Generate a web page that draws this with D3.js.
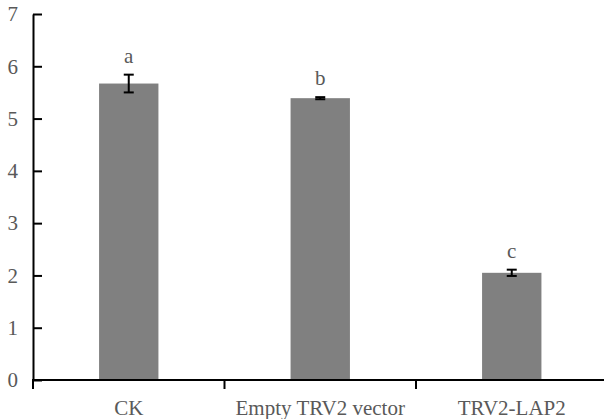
<!DOCTYPE html>
<html>
<head>
<meta charset="utf-8">
<script src="https://cdn.jsdelivr.net/npm/d3@7"></script>
<style>
  body { margin: 0; background: #fff; }
  svg { display: block; }
  text { font-family: "Liberation Serif", "Times New Roman", serif; fill: #595959; }
</style>
</head>
<body>
<svg width="604" height="419"></svg>
<script>
// data
const categories = ["CK", "Empty TRV2 vector", "TRV2-LAP2"]
const values = [5.67, 5.39, 2.05]
const errors = [0.17, 0.02, 0.06]
const letters = ["a", "b", "c"]
const yTicks = [0, 1, 2, 3, 4, 5, 6, 7]

const svg = d3.select("svg")

const x = d3.scaleBand()
  .domain(categories)
  .range([33, 607.5]) //axis runs off the right edge

const y = d3.scaleLinear()
  .domain([0, 7])
  .range([380, 14])

const barW = x.bandwidth() * 0.31

// bars
svg.append("g")
  .selectAll("rect")
  .data(categories)
  .join("rect")
  .attr("x", d => x(d) + x.bandwidth() / 2 - barW / 2)
  .attr("y", (d, i) => y(values[i]))
  .attr("width", barW)
  .attr("height", (d, i) => y(0) - y(values[i]))
  .attr("fill", "#808080")

// error bars
const err = svg.append("g")
  .attr("stroke", "#000")
  .attr("stroke-width", 2)
  .selectAll("g")
  .data(categories)
  .join("g")
  .attr("transform", d => `translate(${x(d) + x.bandwidth() / 2},0)`)

err.append("line")
  .attr("y1", (d, i) => y(values[i] + errors[i]))
  .attr("y2", (d, i) => y(values[i] - errors[i]))
err.append("line")
  .attr("x1", -5).attr("x2", 5)
  .attr("y1", (d, i) => y(values[i] + errors[i]))
  .attr("y2", (d, i) => y(values[i] + errors[i]))
err.append("line")
  .attr("x1", -5).attr("x2", 5)
  .attr("y1", (d, i) => y(values[i] - errors[i]))
  .attr("y2", (d, i) => y(values[i] - errors[i]))

// significance letters
svg.append("g")
  .selectAll("text")
  .data(categories)
  .join("text")
  .attr("x", d => x(d) + x.bandwidth() / 2)
  .attr("y", (d, i) => y(values[i] + errors[i]) - 12)
  .attr("text-anchor", "middle")
  .style("font-size", "21px")
  .text((d, i) => letters[i])

// y axis, ticks point inward
const yAxis = svg.append("g")
  .attr("transform", "translate(33,0)")
  .call(d3.axisLeft(y).tickValues(yTicks).tickFormat(d3.format("d"))
    .tickSizeInner(-9).tickSizeOuter(0).tickPadding(15))
yAxis.select(".domain").attr("stroke", "#000").attr("stroke-width", 2)
yAxis.selectAll(".tick line").attr("stroke", "#000").attr("stroke-width", 2)
yAxis.selectAll("text")
  .style("font-size", "21px")
  .style("font-family", "Liberation Serif, serif")
  .attr("fill", "#595959")

// x axis with ticks on band boundaries
const xAxis = svg.append("g")
  .attr("transform", `translate(0,${y(0)})`)
xAxis.append("line")
  .attr("x1", 32).attr("x2", 604)
  .attr("stroke", "#000").attr("stroke-width", 2)
xAxis.selectAll(".bt")
  .data(categories)
  .join("line")
  .attr("class", "bt")
  .attr("x1", d => x(d)).attr("x2", d => x(d))
  .attr("y1", 0).attr("y2", 9)
  .attr("stroke", "#000").attr("stroke-width", 2)
xAxis.selectAll("text")
  .data(categories)
  .join("text")
  .attr("x", d => x(d) + x.bandwidth() / 2)
  .attr("y", 35)
  .attr("text-anchor", "middle")
  .style("font-size", "21px")
  .text(d => d)
</script>
</body>
</html>
